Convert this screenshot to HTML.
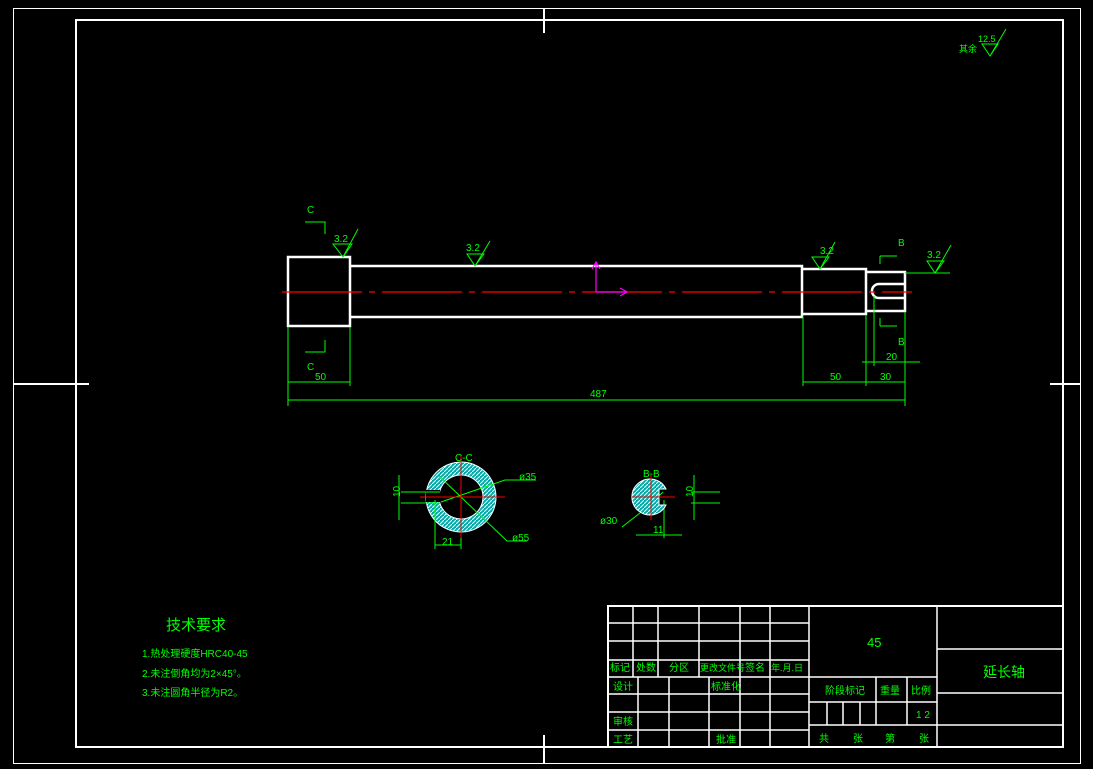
<!DOCTYPE html>
<html><head><meta charset="utf-8"><style>
html,body{margin:0;padding:0;background:#000;width:1093px;height:769px;overflow:hidden}
svg{display:block}
text{font-family:"Liberation Sans","Noto Sans CJK SC",sans-serif;fill:#0f0;font-size:10px}
</style></head><body>
<svg width="1093" height="769" viewBox="0 0 1093 769">
<defs>
<pattern id="h" width="4" height="4" patternUnits="userSpaceOnUse"><rect width="4" height="4" fill="#0aa"/><path d="M0 4L4 0" stroke="#fff" stroke-width="1"/></pattern>
</defs>
<g fill="none" stroke="#fff">
<rect x="13.5" y="8.5" width="1067" height="755" stroke-width="1"/>
<rect x="76" y="20" width="987" height="727" stroke-width="2"/>
<path d="M544 8V33M544 735V763M13 384H89M1050 384H1080" stroke-width="2"/>
<!-- shaft -->
<g stroke-width="2.5">
<rect x="288" y="257" width="62" height="69"/>
<path d="M350 266H802V317H350M802 269H866V314H802M866 272H905V311H866Z"/>
<path d="M905 284H879A7 7 0 0 0 879 298H905"/>
</g>
<!-- title block -->
<g stroke-width="1.5">
<rect x="608" y="606" width="455" height="141" stroke-width="2"/>
<path d="M608 623H809M608 641H809M608 660H809M608 677H809M608 694H809M608 712H809M608 730H809"/>
<path d="M633 606V677M658 606V677M699 606V677M740 606V747M770 606V747M809 606V747M937 606V747"/>
<path d="M638 677V747M669 677V747M709 677V747"/>
<path d="M809 677H937M809 702H937M809 725H937M876 677V725M907 677V725M827 702V725M843 702V725M860 702V725"/>
<path d="M937 649H1063M937 693H1063M937 725H1063"/>
</g>
</g>
<!-- centerline -->
<path d="M282 292H912" stroke="#f00" stroke-width="1.2" stroke-dasharray="80,7,6,7"/>
<path d="M596 292V263M596 292H626M592 269L596 262L600 269M620 288L627 292L620 296" stroke="#f0f" fill="none" stroke-width="1.2"/>
<!-- green dims -->
<g stroke="#0f0" fill="none" stroke-width="1">
<path d="M288 327V406M350 327V386M288 382H350M288 400H905M803 316V386M866 315V386M905 312V406M803 382H905M862 362H920M874 296V366"/>
<path d="M305 222H325V234M305 352H325V340M880 256H897M880 256V264M880 326H897M880 326V318M905 273H950"/>
<!-- roughness -->
<path d="M333 244H352L343 257ZM343 257L358 229"/>
<path d="M467 254H484L475 266ZM475 266L490 241"/>
<path d="M812 257H829L820 269ZM820 269L835 242"/>
<path d="M927 261H944L935 273ZM935 273L951 245"/>
<path d="M982 44H998L990 56ZM990 56L1006 29"/>
</g>
<text x="307" y="213">C</text><text x="307" y="370">C</text>
<text x="315" y="380">50</text><text x="590" y="397">487</text>
<text x="830" y="380">50</text><text x="880" y="380">30</text>
<text x="886" y="360">20</text>
<text x="898" y="246">B</text><text x="898" y="345">B</text>
<text x="334" y="242">3.2</text><text x="466" y="251">3.2</text>
<text x="820" y="254">3.2</text><text x="927" y="258">3.2</text>
<text x="978" y="42" style="font-size:9px">12.5</text>
<text x="959" y="52" style="font-size:9px">其余</text>
<!-- section C-C -->
<path fill-rule="evenodd" fill="url(#h)" stroke="#fff" stroke-width="1" d="M496 497A35 35 0 1 0 496 497.1ZM483 497A22 22 0 1 1 483 496.9Z"/>
<rect x="426" y="490" width="14" height="12" fill="#000"/>
<g stroke="#0f0" fill="none" stroke-width="1">
<path d="M401 492H440M401 503H440M399 475V520M435 500V549M461 500V549M435 545H461M439 476L507 541H527M441 502L505 480H536"/>
<path d="M691 492H720M691 503H720M694 475V520M664 500V538M636 535H682M622 527L640 513L663 492"/>
</g>
<path d="M420 497H505M461 455V538" stroke="#f00" stroke-width="1"/>
<text x="455" y="461">C-C</text><text x="519" y="480">ø35</text><text x="512" y="541">ø55</text>
<text x="396" y="501" transform="rotate(-90 396 497)">10</text>
<text x="442" y="545">21</text>
<!-- section B-B -->
<path fill="url(#h)" stroke="#fff" stroke-width="1" d="M666 489A18 18 0 1 0 666 505L659 505L659 489Z"/>
<path d="M632 497H675M651 475V520" stroke="#f00" stroke-width="1"/>
<text x="643" y="477">B-B</text><text x="600" y="524">ø30</text><text x="653" y="533">11</text>
<text x="689" y="501" transform="rotate(-90 689 497)">10</text>
<!-- tech req -->
<text x="166" y="630" style="font-size:15px">技术要求</text>
<text x="142" y="657">1.热处理硬度HRC40-45</text>
<text x="142" y="677">2.未注倒角均为2×45°。</text>
<text x="142" y="696">3.未注圆角半径为R2。</text>
<!-- title text -->
<text x="610" y="671">标记</text><text x="636" y="671">处数</text><text x="669" y="671">分区</text>
<text x="700" y="671" style="font-size:9px">更改文件号</text><text x="745" y="671">签名</text><text x="771" y="671" style="font-size:9px">年.月.日</text>
<text x="613" y="690">设计</text><text x="711" y="690">标准化</text>
<text x="613" y="725">审核</text><text x="613" y="743">工艺</text><text x="716" y="743">批准</text>
<text x="867" y="647" style="font-size:13px">45</text>
<text x="825" y="694">阶段标记</text><text x="880" y="694">重量</text><text x="911" y="694">比例</text>
<text x="916" y="718">1 2</text>
<text x="819" y="742">共</text><text x="853" y="742">张</text><text x="885" y="742">第</text><text x="919" y="742">张</text>
<text x="983" y="677" style="font-size:14px">延长轴</text>
</svg>
</body></html>
